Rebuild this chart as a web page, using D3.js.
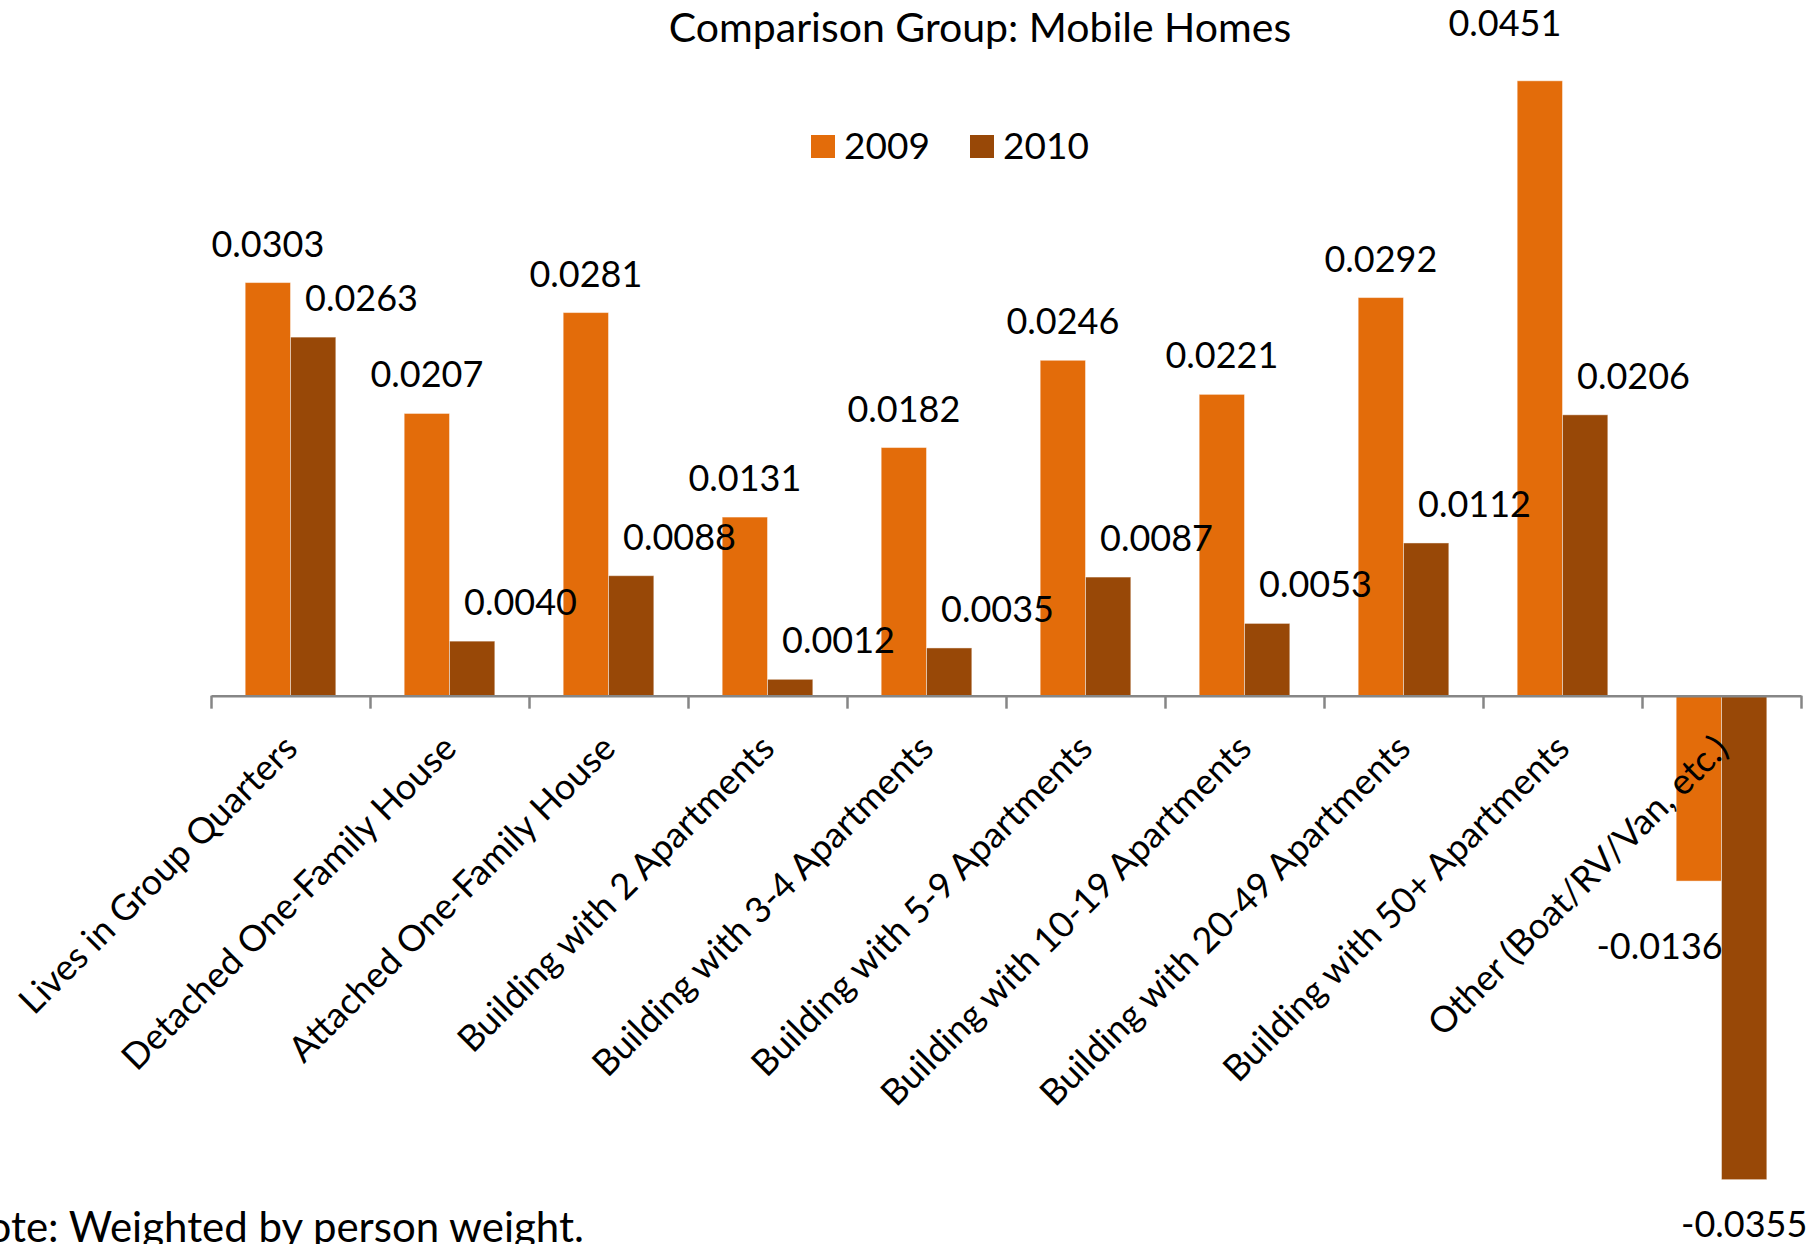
<!DOCTYPE html>
<html>
<head>
<meta charset="utf-8">
<script src="https://cdn.jsdelivr.net/npm/d3@7"></script>
<style>
  body { margin: 0; background: #fff; }
  svg { display: block; font-family: Lato, "Open Sans", sans-serif; }
</style>
</head>
<body>
<svg id="chart" width="1820" height="1244"></svg>
<script>
// categories and values
var categories = [
  "Lives in Group Quarters",
  "Detached One-Family House",
  "Attached One-Family House",
  "Building with 2 Apartments",
  "Building with 3-4 Apartments",
  "Building with 5-9 Apartments",
  "Building with 10-19 Apartments",
  "Building with 20-49 Apartments",
  "Building with 50+ Apartments",
  "Other (Boat/RV/Van, etc.)"
];
var seriesNames = ["2009", "2010"];
var values2009 = [0.0303, 0.0207, 0.0281, 0.0131, 0.0182, 0.0246, 0.0221, 0.0292, 0.0451, -0.0136];
var values2010 = [0.0263, 0.0040, 0.0088, 0.0012, 0.0035, 0.0087, 0.0053, 0.0112, 0.0206, -0.0355];

var colors = { "2009": "#E36C0A", "2010": "#984807" };

var svg = d3.select("#chart"),
    plotLeft = 211, plotRight = 1801,
    plotTop = 14, plotBottom = 1241;

var rows = categories.map(function(c, i) {
  return { cat: c, vals: [
    { key: "2009", value: values2009[i] },
    { key: "2010", value: values2010[i] }
  ]};
});

var x0 = d3.scaleBand()
    .domain(categories)
    .range([plotLeft, plotRight])
    .paddingInner(0.43)
    .paddingOuter(0.215);

var x1 = d3.scaleBand()
    .domain(seriesNames)
    .range([0, x0.bandwidth()]);

var y = d3.scaleLinear()
    .domain([-0.04, 0.05])
    .range([plotBottom, plotTop]);

// title
svg.append("text")
    .attr("x", 980)
    .attr("y", 42)
    .attr("text-anchor", "middle")
    .style("font-size", "41px")
    .text("Comparison Group: Mobile Homes");

// legend
var legend = svg.append("g").attr("transform", "translate(811,135)");
var li = legend.selectAll("g").data(seriesNames).enter().append("g")
    .attr("transform", function(d, i) { return "translate(" + (i * 159) + ",0)"; });
li.append("rect").attr("width", 24).attr("height", 23)
    .attr("fill", function(d) { return colors[d]; });
li.append("text").attr("x", 33).attr("y", 24)
    .style("font-size", "37px")
    .text(function(d) { return d; });

// bars
var barLayer = svg.append("g"),
    labelLayer = svg.append("g");

barLayer.selectAll(".grp").data(rows).enter().append("g")
    .attr("class", "grp")
    .attr("transform", function(d) { return "translate(" + x0(d.cat) + ",0)"; })
  .selectAll("rect").data(function(d) { return d.vals; }).enter().append("rect")
    .attr("x", function(d) { return x1(d.key); })
    .attr("width", x1.bandwidth())
    .attr("y", function(d) { return y(Math.max(0, d.value)); })
    .attr("height", function(d) { return Math.abs(y(d.value) - y(0)); })
    .attr("fill", function(d) { return colors[d.key]; })
    .attr("stroke", "rgba(255,255,255,0.45)")
    .attr("stroke-width", 1);

// data labels; 2010 labels sit one bar to the right like the original
var bw = x1.bandwidth();
function labelShift(d) {
  if (d.value < 0) return d.key === "2009" ? { dx: -bw + 6, dy: 21 } : { dx: 0, dy: 0 };
  if (d.key === "2010") return { dx: bw + 3, dy: 0 };
  if (d.value === d3.max(values2009)) return { dx: -35, dy: -19 };
  return { dx: 0, dy: 0 };
}

labelLayer.selectAll(".lg").data(rows).enter().append("g")
    .attr("class", "lg")
    .attr("transform", function(d) { return "translate(" + x0(d.cat) + ",0)"; })
  .selectAll("text").data(function(d) { return d.vals; }).enter().append("text")
    .attr("text-anchor", "middle")
    .style("font-size", "36px")
    .attr("x", function(d) { return x1(d.key) + bw / 2 + labelShift(d).dx; })
    .attr("y", function(d) {
      var s = labelShift(d).dy;
      return d.value >= 0 ? y(d.value) - 26 + s : y(d.value) + 57 + s;
    })
    .text(function(d) { return d.value.toFixed(4); });

// category axis with ticks between groups
var edge = d3.scaleLinear().domain([0, categories.length]).range([plotLeft, plotRight]);
var axis = svg.append("g")
    .attr("transform", "translate(0," + y(0) + ")")
    .call(d3.axisBottom(edge)
      .tickValues(d3.range(categories.length + 1))
      .tickSize(13)
      .tickSizeOuter(0)
      .tickFormat(""));
axis.select(".domain").attr("stroke", "#868686").attr("stroke-width", 2.5);
axis.selectAll(".tick line").attr("stroke", "#868686").attr("stroke-width", 2.5);

svg.selectAll(".cat").data(categories).enter().append("text")
    .attr("class", "cat")
    .attr("text-anchor", "end")
    .attr("dy", "0.35em")
    .style("font-size", "36px")
    .attr("transform", function(d) {
      return "translate(" + (x0(d) + x0.bandwidth() / 2) + "," + (y(0) + 46) + ") rotate(-45)";
    })
    .text(function(d) { return d; });

// note, cut by the lower edge as in the original
svg.append("text")
    .attr("x", 584)
    .attr("y", 1242)
    .attr("text-anchor", "end")
    .style("font-size", "42px")
    .text("Note: Weighted by person weight.");
</script>
</body>
</html>
